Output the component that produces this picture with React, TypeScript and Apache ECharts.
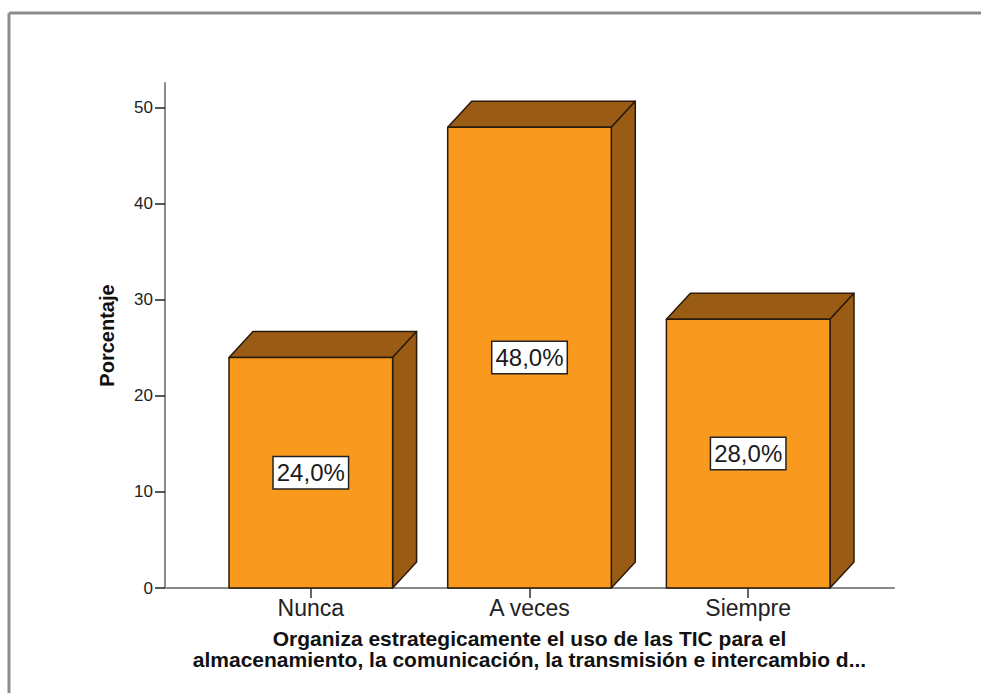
import { useEffect, useRef } from "react";
import * as echarts from "echarts";

// Data
const categories = ["Nunca", "A veces", "Siempre"];
const percentages = [24.0, 48.0, 28.0];
const yTicks = [0, 10, 20, 30, 40, 50];
const yAxisTitle = "Porcentaje";
const xAxisTitle =
  "Organiza estrategicamente el uso de las TIC para el\nalmacenamiento, la comunicación, la transmisión e intercambio d...";

// Styling
const FRONT = "#F99A1E";
const SHADE = "#9A5B14";
const EDGE = "#2A1A0A";
const DEPTH_X = 24;
const DEPTH_Y = 26;
const HALF_WIDTH = 0.374;
const FONT = "'Liberation Sans', Arial, sans-serif";

const fmt = (v: number) => v.toFixed(1).replace(".", ",") + "%";

function renderBar(params: any, api: any) {
  const i = api.value(0);
  const v = api.value(1);
  const [xl, yt] = api.coord([i - HALF_WIDTH, v]);
  const [xr, yb] = api.coord([i + HALF_WIDTH, 0]);
  const edge = { stroke: EDGE, lineWidth: 1.5, lineJoin: "round" };
  return {
    type: "group",
    children: [
      {
        type: "polygon",
        shape: {
          points: [
            [xl, yt],
            [xl + DEPTH_X, yt - DEPTH_Y],
            [xr + DEPTH_X, yt - DEPTH_Y],
            [xr, yt],
          ],
        },
        style: { fill: SHADE, ...edge },
      },
      {
        type: "polygon",
        shape: {
          points: [
            [xr, yt],
            [xr + DEPTH_X, yt - DEPTH_Y],
            [xr + DEPTH_X, yb - DEPTH_Y],
            [xr, yb],
          ],
        },
        style: { fill: SHADE, ...edge },
      },
      {
        type: "rect",
        shape: { x: xl, y: yt, width: xr - xl, height: yb - yt },
        style: { fill: FRONT, ...edge },
      },
      {
        type: "text",
        x: (xl + xr) / 2,
        y: (yt + yb) / 2,
        style: {
          text: fmt(v),
          align: "center",
          verticalAlign: "middle",
          fill: "#1a1a1a",
          font: `24px ${FONT}`,
          backgroundColor: "#ffffff",
          borderColor: "#222222",
          borderWidth: 1.5,
          padding: [4, 3, 3, 3],
        },
      },
    ],
  };
}

export default function App() {
  const ref = useRef<HTMLDivElement>(null);

  useEffect(() => {
    if (!ref.current) return;
    const chart = echarts.init(ref.current, undefined, { renderer: "svg" });
    chart.setOption({
      animation: false,
      backgroundColor: "#ffffff",
      grid: { left: 165, right: 87, top: 83, bottom: 105 },
      xAxis: {
        type: "value",
        min: -2 / 3,
        max: 8 / 3,
        splitLine: { show: false },
        axisLine: {
          show: true,
          onZero: false,
          lineStyle: { color: "#8a8a8a", width: 2 },
        },
        axisTick: {
          show: true,
          customValues: [0, 1, 2],
          length: 10,
          lineStyle: { color: "#333", width: 1.5 },
        },
        axisLabel: {
          customValues: [0, 1, 2],
          formatter: (v: number) => categories[Math.round(v)] ?? "",
          color: "#222",
          fontFamily: FONT,
          fontSize: 23,
          margin: 8,
        },
        name: xAxisTitle,
        nameLocation: "middle",
        nameGap: 40,
        nameTextStyle: {
          color: "#111",
          fontFamily: FONT,
          fontWeight: "bold",
          fontSize: 21,
          lineHeight: 21,
        },
      },
      yAxis: {
        type: "value",
        min: 0,
        max: 52.6,
        splitLine: { show: false },
        axisLine: {
          show: true,
          onZero: false,
          lineStyle: { color: "#8a8a8a", width: 2 },
        },
        axisTick: {
          show: true,
          customValues: yTicks,
          length: 10,
          lineStyle: { color: "#222", width: 1.5 },
        },
        axisLabel: {
          customValues: yTicks,
          color: "#222",
          fontFamily: FONT,
          fontSize: 17,
          margin: 12,
        },
        name: yAxisTitle,
        nameLocation: "middle",
        nameRotate: 90,
        nameGap: 48,
        nameTextStyle: {
          color: "#111",
          fontFamily: FONT,
          fontWeight: "bold",
          fontSize: 20,
        },
      },
      graphic: [
        {
          type: "line",
          shape: { x1: 9, y1: 13, x2: 981, y2: 13 },
          style: { stroke: "#8c8c8c", lineWidth: 3 },
        },
        {
          type: "line",
          shape: { x1: 9, y1: 13, x2: 9, y2: 693 },
          style: { stroke: "#8c8c8c", lineWidth: 3 },
        },
      ],
      series: [
        {
          type: "custom",
          renderItem: renderBar,
          data: percentages.map((v, i) => [i, v]),
          clip: false,
        },
      ],
    });
    return () => chart.dispose();
  }, []);

  return (
    <div
      ref={ref}
      style={{ position: "fixed", left: 0, top: 0, width: 981, height: 693 }}
    />
  );
}
